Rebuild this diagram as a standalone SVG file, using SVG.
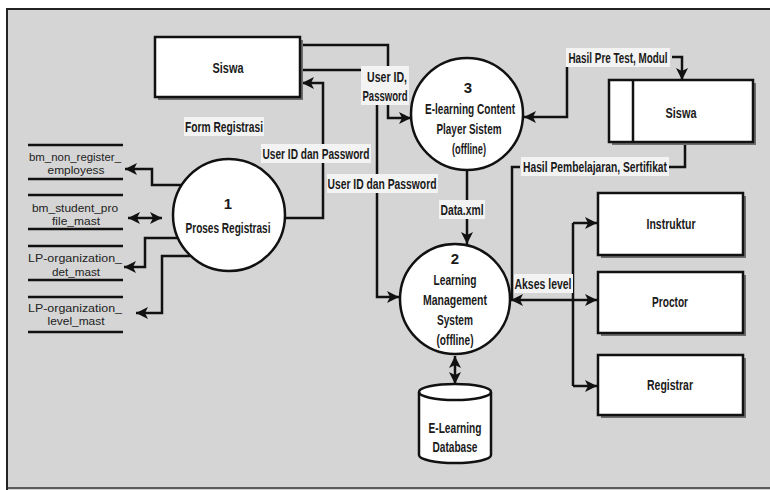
<svg xmlns="http://www.w3.org/2000/svg" width="770" height="490" viewBox="0 0 770 490">
<defs>
<marker id="ah" markerUnits="userSpaceOnUse" markerWidth="14" markerHeight="12" refX="12" refY="6" orient="auto-start-reverse">
<path d="M0,0 L12,6 L0,12 L3,6 Z" fill="#111"/>
</marker>
</defs>
<style>
.ln{fill:none;stroke:#111;stroke-width:2.5}
.box{fill:#fff;stroke:#111;stroke-width:2.5}
.shd{fill:#6e6e6e}
.t{font-family:"Liberation Sans",Arial,sans-serif;font-size:15px;font-weight:bold;fill:#1a1a1a;text-anchor:middle}
.ds{font-family:"Liberation Sans",Arial,sans-serif;font-size:11px;fill:#222;text-anchor:middle}
.lbg{fill:#f3f3f3}
.st{stroke:#111;stroke-width:2.5}
</style>
<rect x="0" y="0" width="770" height="490" fill="#fff"/>
<rect x="7" y="9" width="763" height="481" fill="#d5d5d5"/>
<path d="M7,490 V9 H770" fill="none" stroke="#222" stroke-width="2"/>
<path d="M7,488 H770" fill="none" stroke="#333" stroke-width="1.5"/>

<g id="connectors">
<path class="ln" d="M300,45 H388 V118 H411" marker-end="url(#ah)"/>
<path class="ln" d="M300,70 H377 V297 H399" marker-end="url(#ah)"/>
<path class="ln" d="M280,218 H323 V83 H302" marker-end="url(#ah)"/>
<path class="ln" d="M567,67 V117 H524" marker-end="url(#ah)"/>
<path class="ln" d="M672,57 H682 V80" marker-end="url(#ah)"/>
<path class="ln" d="M685,142 V167 H668"/>
<path class="ln" d="M520,167 H512 V300"/>
<path class="ln" d="M573,300 H511" marker-end="url(#ah)"/>
<path class="ln" d="M573,223 V386"/>
<path class="ln" d="M573,223 H597" marker-end="url(#ah)"/>
<path class="ln" d="M573,300 H597" marker-end="url(#ah)"/>
<path class="ln" d="M573,386 H597" marker-end="url(#ah)"/>
<path class="ln" d="M467,168 V202"/>
<path class="ln" d="M467,218 V244" marker-end="url(#ah)"/>
<path class="ln" d="M455,356 V384" marker-start="url(#ah)" marker-end="url(#ah)"/>
<path class="ln" d="M185,185 H152 V169 H125" marker-end="url(#ah)"/>
<path class="ln" d="M128,218 H162" marker-start="url(#ah)" marker-end="url(#ah)"/>
<path class="ln" d="M185,238 H145 V267 H124" marker-end="url(#ah)"/>
<path class="ln" d="M190,256 H162 V313 H136" marker-end="url(#ah)"/>
</g>

<g id="labels">
<rect class="lbg" x="184" y="117" width="80" height="19"/>
<text class="t" x="224" y="132" textLength="78" lengthAdjust="spacingAndGlyphs">Form Registrasi</text>
<rect class="lbg" x="261" y="144" width="110" height="19"/>
<text class="t" x="316" y="159" textLength="107" lengthAdjust="spacingAndGlyphs">User ID dan Password</text>
<rect class="lbg" x="327" y="174" width="111" height="19"/>
<text class="t" x="382" y="189" textLength="109" lengthAdjust="spacingAndGlyphs">User ID dan Password</text>
<rect class="lbg" x="361" y="66" width="48" height="39"/>
<text class="t" x="387" y="82" textLength="40" lengthAdjust="spacingAndGlyphs">User ID,</text>
<text class="t" x="385" y="101" textLength="45" lengthAdjust="spacingAndGlyphs">Password</text>
<rect class="lbg" x="439" y="200" width="46" height="19"/>
<text class="t" x="462" y="215" textLength="43" lengthAdjust="spacingAndGlyphs">Data.xml</text>
<rect class="lbg" x="566" y="48" width="104" height="19"/>
<text class="t" x="618" y="63" textLength="99" lengthAdjust="spacingAndGlyphs">Hasil Pre Test, Modul</text>
<rect class="lbg" x="521" y="157" width="148" height="19"/>
<text class="t" x="595" y="172" textLength="144" lengthAdjust="spacingAndGlyphs">Hasil Pembelajaran, Sertifikat</text>
<rect class="lbg" x="514" y="274" width="59" height="19"/>
<text class="t" x="543" y="289" textLength="57" lengthAdjust="spacingAndGlyphs">Akses level</text>
</g>

<g id="siswa1">
<rect class="shd" x="158" y="40" width="145" height="60"/>
<rect class="box" x="155" y="37" width="145" height="60"/>
<text class="t" x="228" y="73" textLength="31" lengthAdjust="spacingAndGlyphs">Siswa</text>
</g>

<g id="siswa2">
<rect class="shd" x="612" y="83" width="144" height="62"/>
<rect class="box" x="609" y="80" width="144" height="62"/>
<line class="st" x1="633" y1="80" x2="633" y2="142"/>
<text class="t" x="681" y="118" textLength="31" lengthAdjust="spacingAndGlyphs">Siswa</text>
</g>

<g id="instruktur">
<rect class="shd" x="601" y="196" width="145" height="62"/>
<rect class="box" x="598" y="193" width="145" height="62"/>
<text class="t" x="671" y="229" textLength="49" lengthAdjust="spacingAndGlyphs">Instruktur</text>
</g>
<g id="proctor">
<rect class="shd" x="601" y="275" width="145" height="61"/>
<rect class="box" x="598" y="272" width="145" height="61"/>
<text class="t" x="670" y="307" textLength="36" lengthAdjust="spacingAndGlyphs">Proctor</text>
</g>
<g id="registrar">
<rect class="shd" x="601" y="358" width="145" height="60"/>
<rect class="box" x="598" y="355" width="145" height="60"/>
<text class="t" x="670" y="390" textLength="46" lengthAdjust="spacingAndGlyphs">Registrar</text>
</g>

<g id="proses1">
<circle class="box" cx="229" cy="215" r="56"/>
<text class="t" x="228" y="209">1</text>
<text class="t" x="228" y="233" textLength="85" lengthAdjust="spacingAndGlyphs">Proses Registrasi</text>
</g>

<g id="proses3">
<circle class="box" cx="467" cy="114" r="56"/>
<text class="t" x="468" y="93">3</text>
<text class="t" x="470" y="114" textLength="90" lengthAdjust="spacingAndGlyphs">E-learning Content</text>
<text class="t" x="469" y="134" textLength="65" lengthAdjust="spacingAndGlyphs">Player Sistem</text>
<text class="t" x="469" y="154" textLength="34" lengthAdjust="spacingAndGlyphs">(offline)</text>
</g>

<g id="proses2">
<circle class="box" cx="455" cy="299" r="55"/>
<text class="t" x="455" y="264">2</text>
<text class="t" x="455" y="285" textLength="43" lengthAdjust="spacingAndGlyphs">Learning</text>
<text class="t" x="455" y="305" textLength="64" lengthAdjust="spacingAndGlyphs">Management</text>
<text class="t" x="455" y="325" textLength="36" lengthAdjust="spacingAndGlyphs">System</text>
<text class="t" x="455" y="345" textLength="37" lengthAdjust="spacingAndGlyphs">(offline)</text>
</g>

<g id="database">
<path class="box" d="M419,392 V455 A36,8 0 0 0 491,455 V392 A36,8 0 0 0 419,392 Z"/>
<path class="ln" d="M419,392 A36,8 0 0 0 491,392"/>
<text class="t" x="455" y="433" textLength="53" lengthAdjust="spacingAndGlyphs">E-Learning</text>
<text class="t" x="455" y="452" textLength="45" lengthAdjust="spacingAndGlyphs">Database</text>
</g>

<g id="store1">
<line class="st" x1="28" y1="145" x2="123" y2="145"/>
<line class="st" x1="28" y1="179" x2="123" y2="179"/>
<text class="ds" x="75" y="161" textLength="92" lengthAdjust="spacingAndGlyphs">bm_non_register_</text>
<text class="ds" x="76" y="174" textLength="57" lengthAdjust="spacingAndGlyphs">employess</text>
</g>
<g id="store2">
<line class="st" x1="28" y1="195" x2="123" y2="195"/>
<line class="st" x1="28" y1="229" x2="123" y2="229"/>
<text class="ds" x="75" y="212" textLength="86" lengthAdjust="spacingAndGlyphs">bm_student_pro</text>
<text class="ds" x="76" y="225" textLength="48" lengthAdjust="spacingAndGlyphs">file_mast</text>
</g>
<g id="store3">
<line class="st" x1="28" y1="246" x2="123" y2="246"/>
<line class="st" x1="28" y1="280" x2="123" y2="280"/>
<text class="ds" x="75" y="262" textLength="94" lengthAdjust="spacingAndGlyphs">LP-organization_</text>
<text class="ds" x="76" y="276" textLength="48" lengthAdjust="spacingAndGlyphs">det_mast</text>
</g>
<g id="store4">
<line class="st" x1="28" y1="297" x2="123" y2="297"/>
<line class="st" x1="28" y1="332" x2="123" y2="332"/>
<text class="ds" x="75" y="312" textLength="94" lengthAdjust="spacingAndGlyphs">LP-organization_</text>
<text class="ds" x="76" y="325" textLength="57" lengthAdjust="spacingAndGlyphs">level_mast</text>
</g>
</svg>
